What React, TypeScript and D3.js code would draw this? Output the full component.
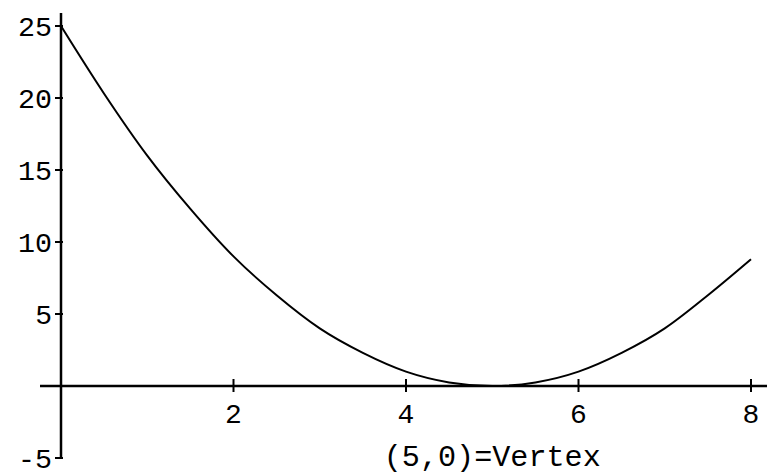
import * as d3 from 'd3'

const xs = [0, 0.5, 1, 1.5, 2, 2.5, 3, 3.5, 4, 4.5, 5, 5.5, 6, 6.5, 7, 7.5, 8]
const ys = [25, 20.3, 16, 12.3, 9, 6.3, 4, 2.3, 1, 0.25, 0, 0.25, 1, 2.3, 4, 6.3, 8.8]
const xTicks = [2, 4, 6, 8]
const yTicks = [-5, 5, 10, 15, 20, 25]
const vertexLabel = '(5,0)=Vertex'

const width = 767
const height = 476
const font = '"Liberation Mono", "DejaVu Sans Mono", monospace'

export default function App() {
  const x = d3.scaleLinear([0, 8], [61, 751])
  const y = d3.scaleLinear([-5, 25], [458, 26])
  const pts: [number, number][] = xs.map((v, i) => [v, ys[i]])
  const line = d3
    .line<[number, number]>()
    .x((d) => x(d[0]))
    .y((d) => y(d[1]))
    .curve(d3.curveMonotoneX)

  return (
    <svg
      width={width}
      height={height}
      style={{ position: 'absolute', left: 0, top: 0, background: 'white' }}
    >
      {/* axes */}
      <line x1={40} x2={width} y1={y(0)} y2={y(0)} stroke="black" strokeWidth={2.5} />
      <line x1={x(0)} x2={x(0)} y1={13} y2={y(-5)} stroke="black" strokeWidth={2.5} />
      {yTicks.map((t) => {
        const label = t < 0 ? '-' + Math.abs(t) : String(t)
        return (
          <g key={t}>
            <line x1={x(0) - 6} x2={x(0) + 2} y1={y(t)} y2={y(t)} stroke="black" strokeWidth={2} />
            <text
              x={x(0) - 9}
              y={y(t) + 10}
              textAnchor="end"
              fontFamily={font}
              fontSize={28}
              textLength={label.length > 1 ? 34 : undefined}
              lengthAdjust={label.length > 1 ? 'spacingAndGlyphs' : undefined}
              fill="black"
            >
              {label}
            </text>
          </g>
        )
      })}
      {xTicks.map((t) => (
        <g key={t}>
          <line x1={x(t)} x2={x(t)} y1={y(0) - 7} y2={y(0) + 6} stroke="black" strokeWidth={2} />
          <text
            x={x(t)}
            y={y(0) + 37}
            textAnchor="middle"
            fontFamily={font}
            fontSize={28}
            fill="black"
          >
            {t}
          </text>
        </g>
      ))}
      <path d={line(pts) || undefined} fill="none" stroke="black" strokeWidth={2} />
      <text
        x={x(5)}
        y={466}
        textAnchor="middle"
        fontFamily={font}
        fontSize={29}
        textLength={217}
        lengthAdjust="spacingAndGlyphs"
        fill="black"
      >
        {vertexLabel}
      </text>
    </svg>
  )
}
